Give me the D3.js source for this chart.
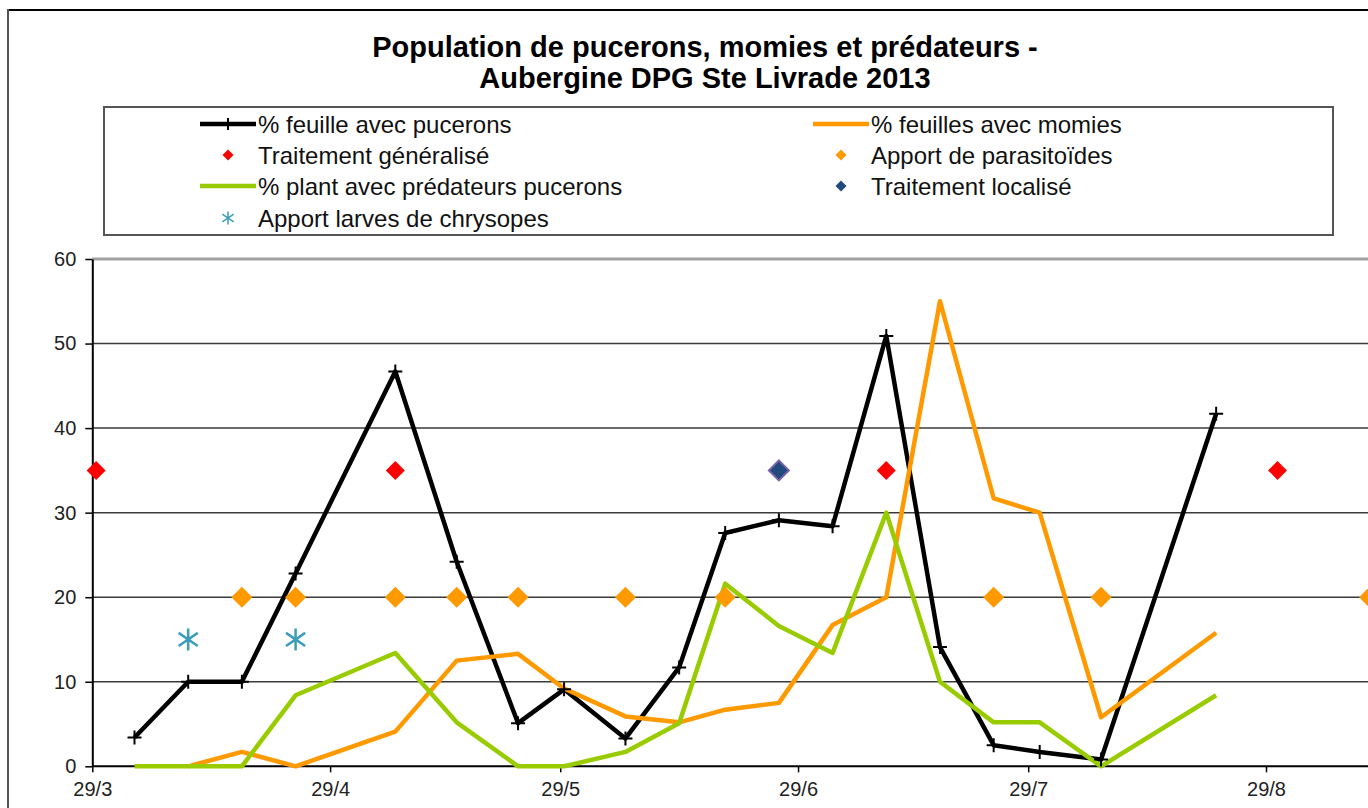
<!DOCTYPE html>
<html>
<head>
<meta charset="utf-8">
<script src="https://cdn.jsdelivr.net/npm/d3@7"></script>
<style>
  body { margin: 0; background: #fff; }
  svg { display: block; font-family: "Liberation Sans", Arial, sans-serif; }
</style>
</head>
<body>
<script>
// dates of the counts (one every week or so)
const dates = ["2013-04-03", "2013-04-10", "2013-04-17", "2013-04-24", "2013-05-07",
  "2013-05-15", "2013-05-23", "2013-05-29", "2013-06-06", "2013-06-13", "2013-06-19",
  "2013-06-26", "2013-07-03", "2013-07-10", "2013-07-17", "2013-07-24", "2013-07-30",
  "2013-08-07", "2013-08-22"];
const pucerons = [3.4, 10, 10, 22.8, 46.7, 24.2, 5.1, 9.1, 3.3, 11.7, 27.6, 29.1, 28.4, 50.9, 14.1, 2.5, 1.7, 0.8, 41.7];
const momies = [null, 0, 1.7, 0, 4.1, 12.5, 13.3, 9.2, 5.9, 5.2, 6.7, 7.5, 16.7, 20, 55, 31.7, 30, 5.8, 15.8];
const predateurs = [0, 0, 0, 8.4, 13.4, 5.2, 0, 0, 1.7, 5.1, 21.6, 16.6, 13.4, 30, 10, 5.2, 5.2, 0, 8.4];

// events
const traitementGeneralise = ["2013-03-29", "2013-05-07", "2013-07-10", "2013-08-30"];
const apportParasitoides = ["2013-04-17", "2013-04-24", "2013-05-07", "2013-05-15", "2013-05-23",
  "2013-06-06", "2013-06-19", "2013-07-24", "2013-08-07", "2013-09-11"];
const traitementLocalise = ["2013-06-26"];
const apportChrysopes = ["2013-04-10", "2013-04-24"];
const eventLevels = { generalise: 35, parasitoides: 20, localise: 35, chrysopes: 15 };

const xTicks = ["2013-03-29", "2013-04-29", "2013-05-29", "2013-06-29", "2013-07-29", "2013-08-29"];
const yTicks = [0, 10, 20, 30, 40, 50, 60];

const W = 1368, H = 808;
const parse = d3.utcParse("%Y-%m-%d");
const mid = s => d3.utcHour.offset(parse(s), 12);

const x = d3.scaleUtc()
  .domain([parse("2013-03-29"), parse("2013-08-29")])
  .range([92.3, 1266]);
const y = d3.scaleLinear().domain([0, 60]).range([766.3, 259]);

const svg = d3.select("body").append("svg")
  .attr("width", W)
  .attr("height", H);

// chart frame (cropped on the right and bottom)
svg.append("line").attr("x1", 7).attr("x2", W).attr("y1", 10).attr("y2", 10)
  .attr("stroke", "#000").attr("stroke-width", 2);
svg.append("line").attr("x1", 8).attr("x2", 8).attr("y1", 9).attr("y2", H)
  .attr("stroke", "#555").attr("stroke-width", 2);

// title
const title = svg.append("text")
  .attr("text-anchor", "middle")
  .attr("font-weight", "bold")
  .attr("font-size", 29)
  .attr("fill", "#000");
title.append("tspan").attr("x", 705).attr("y", 57).text("Population de pucerons, momies et prédateurs -");
title.append("tspan").attr("x", 705).attr("y", 88).text("Aubergine DPG Ste Livrade 2013");

// grid
const plotRight = 1400;
svg.append("g")
  .selectAll("line")
  .data(yTicks.filter(d => d > 0 && d < 60))
  .join("line")
  .attr("x1", x.range()[0]).attr("x2", plotRight)
  .attr("y1", d => y(d)).attr("y2", d => y(d))
  .attr("stroke", "#3a3a3a").attr("stroke-width", 1.5);
svg.append("line")
  .attr("x1", x.range()[0]).attr("x2", plotRight)
  .attr("y1", y(60)).attr("y2", y(60))
  .attr("stroke", "#a0a0a0").attr("stroke-width", 3);

// axes
const yAxis = svg.append("g")
  .attr("transform", `translate(${x.range()[0]},0)`)
  .call(d3.axisLeft(y).tickValues(yTicks).tickSize(7).tickPadding(9).tickSizeOuter(0));
const xAxis = svg.append("g")
  .attr("transform", `translate(0,${y(0)})`)
  .call(d3.axisBottom(x).tickValues(xTicks.map(parse)).tickFormat(d3.utcFormat("%-d/%-m"))
    .tickSize(6).tickPadding(10).tickSizeOuter(0));
xAxis.select(".domain").attr("d", `M${x.range()[0]},0H${plotRight}`);
[yAxis, xAxis].forEach(a => {
  a.attr("font-size", 20).attr("font-family", null);
  a.selectAll("text").attr("fill", "#222");
  a.selectAll("line").attr("stroke", "#000").attr("stroke-width", 1.5);
  a.select(".domain").attr("stroke", "#000").attr("stroke-width", 2);
});

// series
const pts = vals => dates.map((d, i) => ({ date: mid(d), v: vals[i] })).filter(p => p.v !== null);
const line = d3.line().x(p => x(p.date)).y(p => y(p.v));

const diamond = s => `M0,${-s}L${s},0L0,${s}L${-s},0Z`;
const cross = s => `M${-s},0H${s}M0,${-s}V${s}`;
const star = s => `M0,${-s}V${s}M${-s * 0.87},${-s * 0.6}L${s * 0.87},${s * 0.6}M${-s * 0.87},${s * 0.6}L${s * 0.87},${-s * 0.6}`;

const series = [
  { vals: pucerons, color: "#000000", width: 4.5 },
  { vals: momies, color: "#ff9900", width: 4.5 },
  { vals: predateurs, color: "#99cc00", width: 4.5 }
];
series.forEach(s => {
  svg.append("path")
    .datum(pts(s.vals))
    .attr("fill", "none")
    .attr("stroke", s.color)
    .attr("stroke-width", s.width)
    .attr("stroke-linejoin", "round")
    .attr("d", line);
});

// + markers on aphid line
svg.append("g")
  .selectAll("path")
  .data(pts(pucerons))
  .join("path")
  .attr("transform", p => `translate(${x(p.date)},${y(p.v)})`)
  .attr("d", cross(7))
  .attr("stroke", "#000").attr("stroke-width", 2);

// event markers
function events(list, level, draw) {
  svg.append("g")
    .selectAll("path")
    .data(list.map(mid))
    .join("path")
    .attr("transform", d => `translate(${x(d)},${y(level)})`)
    .call(draw);
}
events(traitementGeneralise, eventLevels.generalise, p => p.attr("d", diamond(9.5)).attr("fill", "#ff0000"));
events(apportParasitoides, eventLevels.parasitoides, p => p.attr("d", diamond(10.5)).attr("fill", "#ff9900"));
events(traitementLocalise, eventLevels.localise, p => p.attr("d", diamond(10))
  .attr("fill", "#234a7e").attr("stroke", "#7a64a8").attr("stroke-width", 2));
events(apportChrysopes, eventLevels.chrysopes, p => p.attr("d", star(11))
  .attr("fill", "none").attr("stroke", "#3c9db8").attr("stroke-width", 2.5));

// legend
svg.append("rect")
  .attr("x", 104).attr("y", 107).attr("width", 1229).attr("height", 128)
  .attr("fill", "#fff").attr("stroke", "#555").attr("stroke-width", 2);

const legendItems = [
  { label: "% feuille avec pucerons", col: 0, row: 0, kind: "line", color: "#000", marker: "cross" },
  { label: "% feuilles avec momies", col: 1, row: 0, kind: "line", color: "#ff9900" },
  { label: "Traitement généralisé", col: 0, row: 1, kind: "diamond", color: "#ff0000" },
  { label: "Apport de parasitoïdes", col: 1, row: 1, kind: "diamond", color: "#ff9900" },
  { label: "% plant avec prédateurs pucerons", col: 0, row: 2, kind: "line", color: "#99cc00" },
  { label: "Traitement localisé", col: 1, row: 2, kind: "diamond", color: "#234a7e" },
  { label: "Apport larves de chrysopes", col: 0, row: 3, kind: "star", color: "#3c9db8" }
];
const colX = [200, 813], rowY = [124, 155, 186, 218];
const leg = svg.append("g")
  .selectAll("g")
  .data(legendItems)
  .join("g")
  .attr("transform", d => `translate(${colX[d.col]},${rowY[d.row]})`);
leg.filter(d => d.kind === "line").append("line")
  .attr("x1", 0).attr("x2", 56).attr("y1", 0).attr("y2", 0)
  .attr("stroke", d => d.color).attr("stroke-width", 4.5);
leg.filter(d => d.marker === "cross").append("path")
  .attr("transform", "translate(28,0)").attr("d", cross(6))
  .attr("stroke", "#000").attr("stroke-width", 2);
leg.filter(d => d.kind === "diamond").append("path")
  .attr("transform", "translate(28,0)").attr("d", diamond(5.5))
  .attr("fill", d => d.color);
leg.filter(d => d.kind === "star").append("path")
  .attr("transform", "translate(28,0)").attr("d", star(6.5))
  .attr("fill", "none").attr("stroke", d => d.color).attr("stroke-width", 1.5);
leg.append("text")
  .attr("x", 58).attr("y", 8.5)
  .attr("font-size", 24).attr("fill", "#111")
  .text(d => d.label);
</script>
</body>
</html>
